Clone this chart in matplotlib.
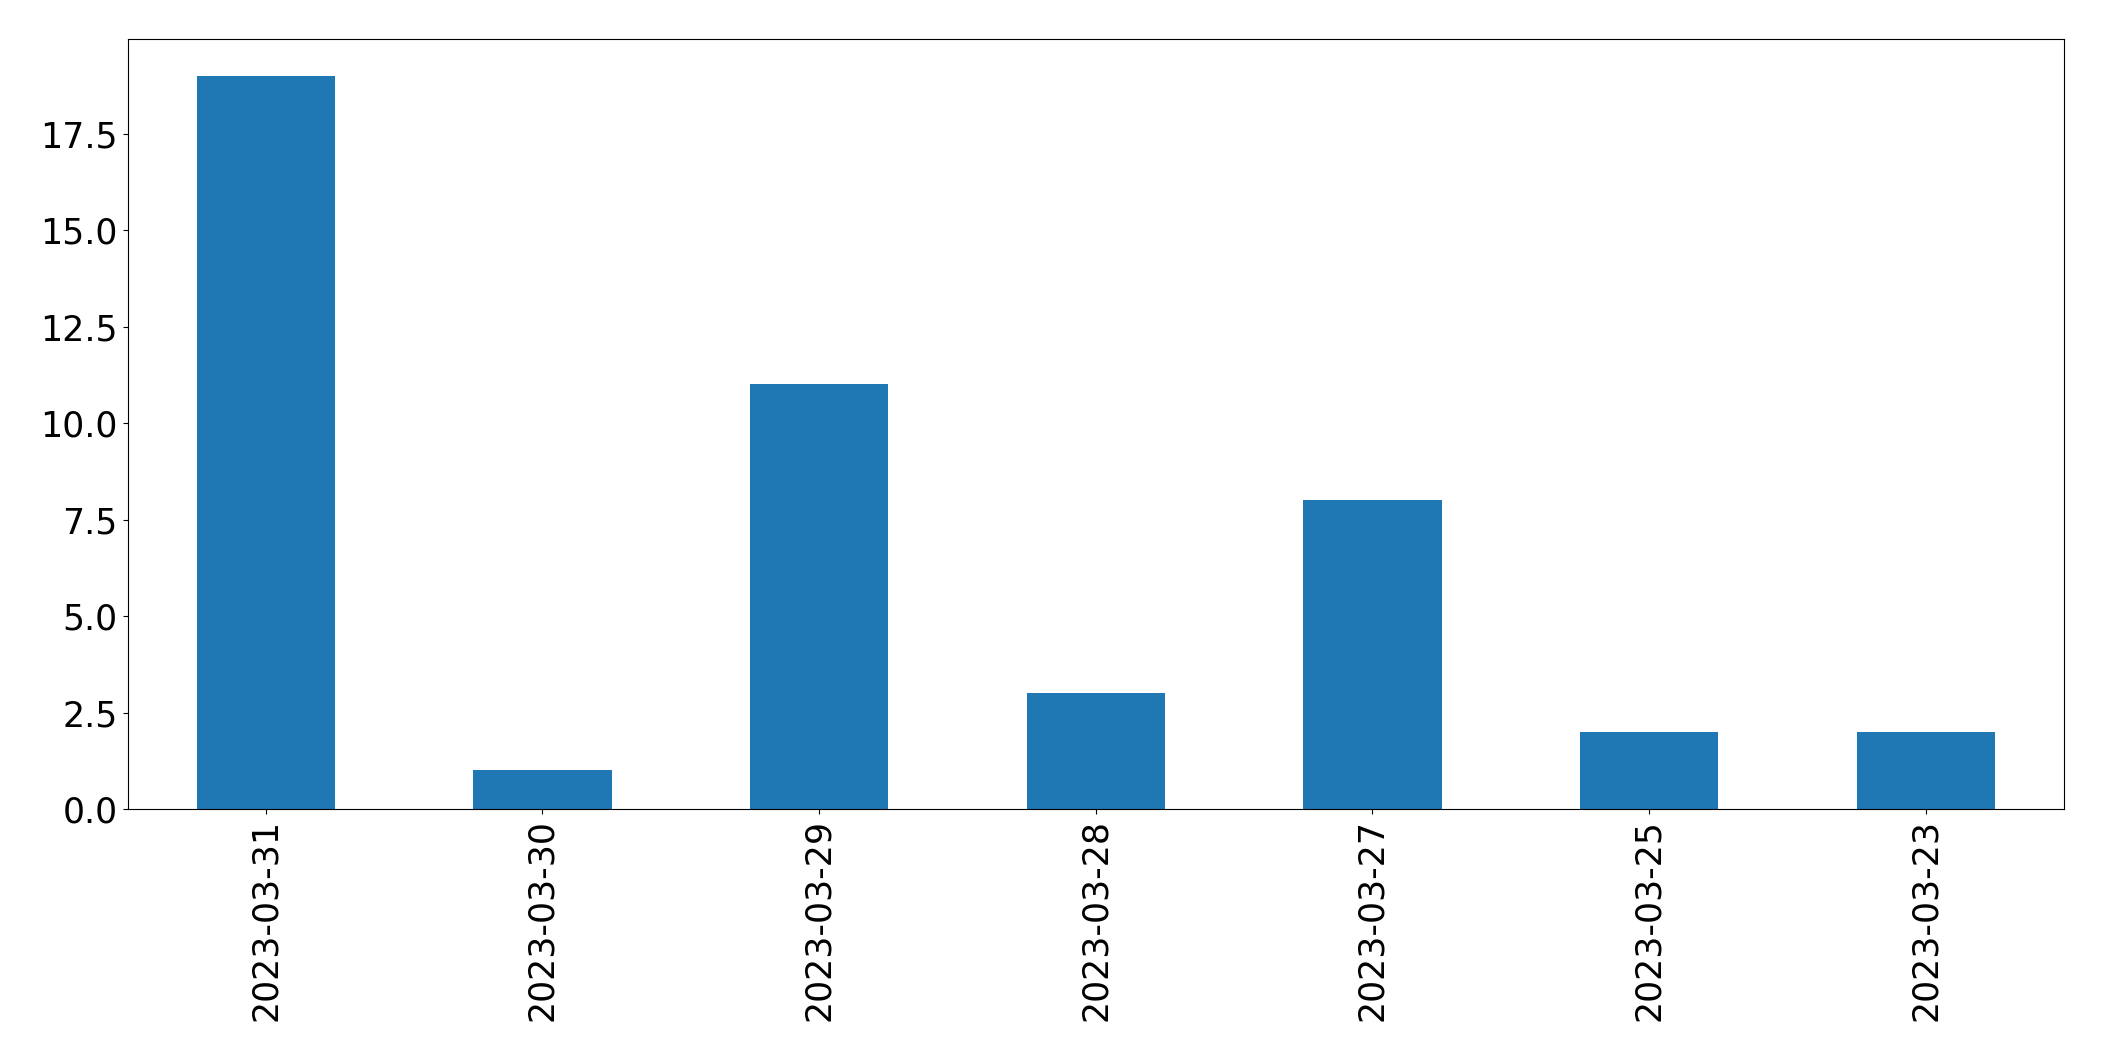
import matplotlib
matplotlib.use("Agg")
import matplotlib.pyplot as plt

dates = ["2023-03-31", "2023-03-30", "2023-03-29", "2023-03-28", "2023-03-27", "2023-03-25", "2023-03-23"]
counts = [19, 1, 11, 3, 8, 2, 2]

fig = plt.figure(figsize=(21.04, 10.61), dpi=100)
ax = fig.add_axes([127.5/2104, 1-809/1061, (2064-127.5)/2104, (809-39)/1061])
x = list(range(len(dates)))
ax.bar(x, counts, width=0.5, color="#1f77b4")
ax.set_xlim(-0.5, len(dates) - 0.5)
ax.set_ylim(0, max(counts) * 1.05)
ax.set_xticks(x)
ax.set_xticklabels(dates, rotation=90)
ax.tick_params(labelsize=25)
fig.savefig("out.png", dpi=100)
